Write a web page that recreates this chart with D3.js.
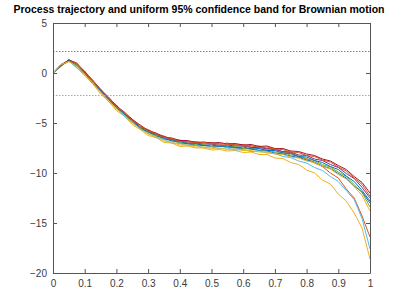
<!DOCTYPE html>
<html>
<head>
<meta charset="utf-8">
<script src="https://cdn.jsdelivr.net/npm/d3@7"></script>
<style>
  body { margin: 0; background: #fff; }
  svg text { font-family: "Liberation Sans", Arial, sans-serif; }
  .tick text { fill: #3a3a3a; font-size: 10px; }
  .tick line, .domain { stroke: #555; }
</style>
</head>
<body>
<div id="chart"></div>
<script>
// time grid shared by all trajectories
var times = [0, 0.025, 0.05, 0.075, 0.1, 0.125, 0.15, 0.175, 0.2, 0.225, 0.25, 0.275, 0.3, 0.325, 0.35, 0.375, 0.4,
  0.425, 0.45, 0.475, 0.5, 0.525, 0.55, 0.575, 0.6, 0.625, 0.65, 0.675, 0.7, 0.725, 0.75, 0.775, 0.8, 0.825, 0.85,
  0.875, 0.9, 0.925, 0.95, 0.975, 1];

var traj1 = [0, 0.85, 1.2, 0.75, -0.05, -0.85, -1.75, -2.5, -3.55, -4.0, -4.9, -5.5, -5.95, -6.1, -6.65, -6.6, -7.0,
  -7.05, -7.2, -7.25, -7.35, -7.3, -7.4, -7.5, -7.55, -7.6, -7.75, -7.8, -8.0, -8.1, -8.3, -8.45, -8.7, -8.9, -9.3,
  -9.55, -10.05, -10.5, -11.3, -11.9, -13.0];
var traj2 = [0, 0.65, 1.35, 0.85, 0.2, -0.85, -1.6, -2.55, -3.2, -4.1, -4.6, -5.4, -5.65, -6.1, -6.3, -6.65, -6.7,
  -6.9, -6.85, -7.0, -6.95, -7.15, -7.0, -7.2, -7.15, -7.4, -7.3, -7.55, -7.55, -7.9, -7.95, -8.4, -8.55, -9.0, -9.35,
  -10.0, -10.5, -11.6, -12.5, -14.3, -16.4];
var traj3 = [0, 0.7, 1.25, 0.55, -0.3, -1.05, -2.1, -2.8, -3.75, -4.3, -5.15, -5.65, -6.25, -6.45, -6.95, -7.0, -7.35,
  -7.3, -7.5, -7.5, -7.7, -7.65, -7.8, -7.75, -7.95, -7.9, -8.15, -8.15, -8.5, -8.55, -8.95, -9.15, -9.7, -10.0, -10.7,
  -11.1, -12.1, -12.8, -14.0, -15.5, -18.6];
var traj4 = [0, 0.8, 1.3, 0.8, 0.1, -0.9, -1.65, -2.55, -3.25, -4.1, -4.65, -5.4, -5.75, -6.15, -6.4, -6.7, -6.8,
  -7.0, -7.0, -7.1, -7.1, -7.25, -7.2, -7.3, -7.3, -7.45, -7.45, -7.6, -7.65, -7.85, -7.9, -8.2, -8.25, -8.6, -8.75,
  -9.15, -9.45, -10.05, -10.55, -11.45, -12.5];
var traj5 = [0, 0.75, 1.15, 0.85, -0.05, -0.85, -1.85, -2.6, -3.45, -4.1, -4.9, -5.4, -5.95, -6.2, -6.6, -6.75, -7.0,
  -7.0, -7.2, -7.15, -7.35, -7.25, -7.45, -7.35, -7.55, -7.55, -7.7, -7.7, -7.9, -7.95, -8.2, -8.3, -8.6, -8.75, -9.15,
  -9.4, -9.9, -10.35, -11.15, -11.95, -13.4];
var traj6 = [0, 0.75, 1.2, 0.5, -0.1, -1.05, -1.8, -2.85, -3.5, -4.35, -4.9, -5.6, -6.0, -6.45, -6.65, -7.0, -7.05,
  -7.25, -7.25, -7.45, -7.4, -7.55, -7.5, -7.7, -7.65, -7.85, -7.8, -8.0, -8.05, -8.35, -8.45, -8.8, -9.0, -9.45, -9.75,
  -10.35, -10.85, -11.75, -12.65, -14.55, -17.6];
var traj7 = [0, 0.8, 1.3, 1.0, 0.1, -0.7, -1.65, -2.4, -3.3, -3.9, -4.65, -5.2, -5.75, -6.0, -6.4, -6.5, -6.75,
  -6.75, -6.95, -6.9, -7.0, -6.95, -7.1, -7.05, -7.2, -7.15, -7.35, -7.3, -7.55, -7.55, -7.8, -7.85, -8.1, -8.25, -8.6,
  -8.8, -9.25, -9.65, -10.35, -10.95, -12.0];
var traj8 = [0, 0.7, 1.3, 0.7, 0.0, -1.0, -1.75, -2.65, -3.4, -4.15, -4.75, -5.5, -5.85, -6.3, -6.5, -6.8, -6.85,
  -7.1, -7.05, -7.25, -7.2, -7.35, -7.3, -7.45, -7.4, -7.6, -7.55, -7.75, -7.75, -8.0, -8.05, -8.35, -8.4, -8.75, -8.95,
  -9.35, -9.65, -10.3, -10.85, -11.75, -12.8];
var traj9 = [0, 0.75, 1.2, 0.95, 0.05, -0.75, -1.7, -2.45, -3.35, -3.95, -4.75, -5.25, -5.8, -6.05, -6.45, -6.55, -6.85,
  -6.85, -7.0, -6.95, -7.1, -7.05, -7.15, -7.15, -7.3, -7.25, -7.45, -7.4, -7.6, -7.65, -7.9, -7.95, -8.25, -8.35, -8.7,
  -8.9, -9.4, -9.8, -10.5, -11.15, -12.3];
var traj10 = [0, 0.85, 1.15, 0.7, -0.15, -0.95, -1.95, -2.7, -3.6, -4.2, -5.0, -5.55, -6.1, -6.35, -6.8, -6.9, -7.2,
  -7.2, -7.4, -7.4, -7.55, -7.5, -7.65, -7.6, -7.75, -7.75, -7.9, -7.9, -8.1, -8.15, -8.4, -8.5, -8.8, -8.95, -9.35,
  -9.6, -10.15, -10.6, -11.35, -12.25, -13.8];

var trajectories = [traj1, traj2, traj3, traj4, traj5, traj6, traj7, traj8, traj9, traj10];
var colorOrder = ['#0072BD', '#D95319', '#EDB120', '#7E2F8E', '#77AC30', '#4DBEEE', '#A2142F'];

// uniform 95% band for Brownian motion
var bandLevels = [2.2414, -2.2414];
var bandColors = ['#8d7aa3', '#b0b35c'];

var xTicks = [0, 0.1, 0.2, 0.3, 0.4, 0.5, 0.6, 0.7, 0.8, 0.9, 1];
var yTicks = [5, 0, -5, -10, -15, -20];
var title = 'Process trajectory and uniform 95% confidence band for Brownian motion';

var margin = {top: 23, right: 39, bottom: 33, left: 53},
    width = 409 - margin.left - margin.right,
    height = 306 - margin.top - margin.bottom;

var svg = d3.select('#chart').append('svg')
    .attr('width', 409)
    .attr('height', 306);

var g = svg.append('g')
    .attr('transform', 'translate(' + margin.left + ',' + margin.top + ')');

var x = d3.scaleLinear().domain([0, 1]).range([0, width]);
var y = d3.scaleLinear().domain([-20, 5]).range([height, 0]);

var line = d3.line()
    .x((d, i) => x(times[i]))
    .y(d => y(d));

trajectories.forEach(function(tr, i) {
    g.append('path')
        .datum(tr)
        .attr('fill', 'none')
        .attr('stroke', colorOrder[i % colorOrder.length])
        .attr('stroke-width', 1)
        .attr('stroke-linejoin', 'round')
        .attr('d', line);
});

// dotted band lines
bandLevels.forEach(function(lv, i) {
    g.append('line')
        .attr('x1', x(0)).attr('x2', x(1))
        .attr('y1', Math.round(y(lv)) + 0.5).attr('y2', Math.round(y(lv)) + 0.5)
        .attr('stroke', bandColors[i])
        .attr('stroke-width', 1)
        .attr('stroke-dasharray', '1.5,1.5');
});

// axes, ticks pointing inward, box on
g.append('g')
    .attr('transform', 'translate(0,' + height + ')')
    .call(d3.axisBottom(x).tickValues(xTicks).tickFormat(d3.format('~g')).tickSizeInner(-4).tickSizeOuter(0).tickPadding(7));
g.append('g')
    .call(d3.axisLeft(y).tickValues(yTicks).tickSizeInner(-4).tickSizeOuter(0).tickPadding(6));
g.append('g')
    .call(d3.axisTop(x).tickValues(xTicks).tickFormat('').tickSizeInner(-4).tickSizeOuter(0));
g.append('g')
    .attr('transform', 'translate(' + width + ',0)')
    .call(d3.axisRight(y).tickValues(yTicks).tickFormat('').tickSizeInner(-4).tickSizeOuter(0));

// Chart title
svg.append('text')
    .attr('x', 199)
    .attr('y', 13)
    .attr('text-anchor', 'middle')
    .style('font-size', '10.5px')
    .style('font-weight', 'bold')
    .text(title);
</script>
</body>
</html>
